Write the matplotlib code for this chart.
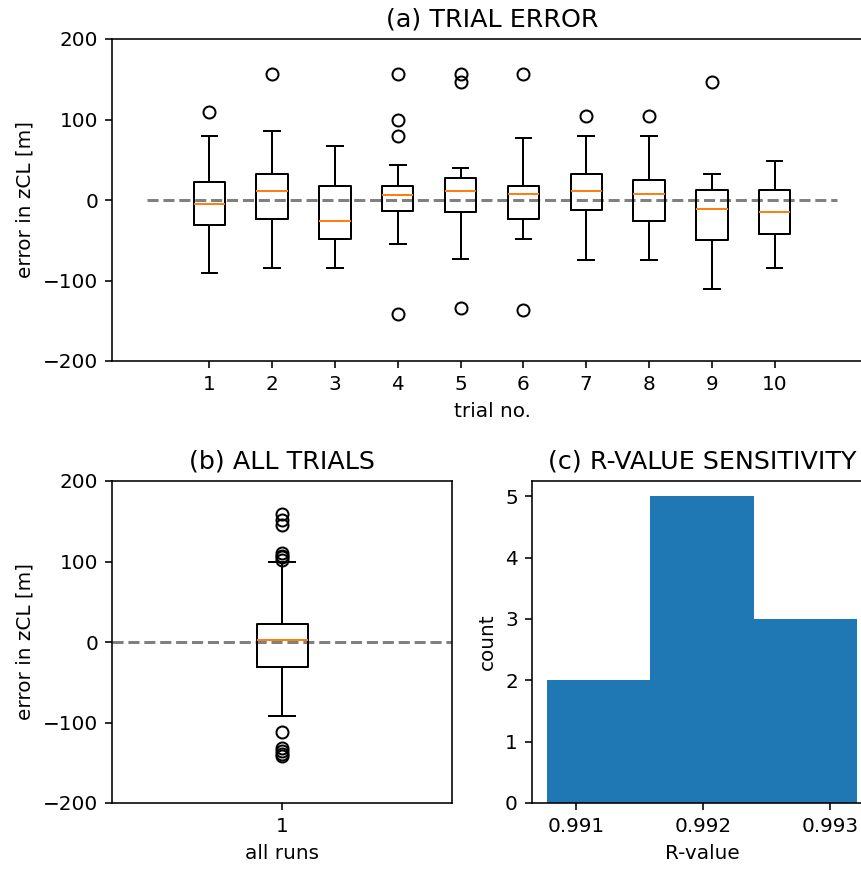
import numpy as np
import matplotlib
matplotlib.use('Agg')
import matplotlib.pyplot as plt

# per-trial box stats (error in zCL, m)
trials = [1, 2, 3, 4, 5, 6, 7, 8, 9, 10]
trial_med = [-5, 11, -26, 6, 11, 7, 11, 8, -11, -15]
trial_q1 = [-31, -24, -48, -14, -15, -23, -13, -26, -50, -42]
trial_q3 = [22, 32, 17, 17, 27, 18, 32, 25, 12, 12]
trial_whislo = [-91, -84, -85, -55, -73, -49, -75, -74, -111, -84]
trial_whishi = [79, 86, 67, 43, 40, 77, 79, 79, 32, 49]
trial_fliers = [[109], [157], [], [157, 99, 80, -141], [157, 147, -134],
                [157, -137], [104], [104], [146], []]

# all trials pooled
all_med = 2.5
all_q1 = -31
all_q3 = 22
all_whislo = -92
all_whishi = 99
all_fliers = [159, 152, 145, 111, 107, 105, 102, -112, -132, -136, -139, -142]

# R-values, one per trial
r_values = [0.990774, 0.99125, 0.99175, 0.99190, 0.99200, 0.99210,
            0.99225, 0.99265, 0.99290, 0.993205]

W, H = 861, 869
DPI = 144
TITLE_SIZE = 12.7


def px_axes(fig, left, top, right, bottom):
    return fig.add_axes([left / W, 1 - bottom / H, (right - left) / W, (bottom - top) / H])


def make_stats(med, q1, q3, lo, hi, fl):
    return dict(med=med, q1=q1, q3=q3, whislo=lo, whishi=hi, fliers=fl)


def main():
    fig = plt.figure(figsize=(W / DPI, H / DPI), dpi=DPI)

    # (a) trial error
    ax1 = px_axes(fig, 112, 39, 872, 361)
    stats = [make_stats(trial_med[i], trial_q1[i], trial_q3[i], trial_whislo[i],
                        trial_whishi[i], trial_fliers[i]) for i in range(len(trials))]
    ax1.bxp(stats, positions=trials, widths=0.5, showfliers=True)
    ax1.hlines(0, 0, len(trials) + 1, colors='gray', linestyles='--', linewidth=1.5, zorder=1)
    ax1.set_xlim(-0.55, 11.55)
    ax1.set_xticks(trials)
    ax1.set_xticklabels([str(t) for t in trials])
    ax1.set_ylim(-200, 200)
    ax1.set_yticks([-200, -100, 0, 100, 200])
    ax1.set_xlabel('trial no.')
    ax1.set_ylabel('error in zCL [m]')
    ax1.set_title('(a) TRIAL ERROR', fontsize=TITLE_SIZE)

    # (b) all trials
    ax2 = px_axes(fig, 112, 481, 452, 803)
    ax2.bxp([make_stats(all_med, all_q1, all_q3, all_whislo, all_whishi, all_fliers)],
            positions=[1], widths=0.15, showfliers=True)
    ax2.axhline(0, color='gray', linestyle='--', linewidth=1.5, zorder=1)
    ax2.set_xlim(0.5, 1.5)
    ax2.set_xticks([1])
    ax2.set_xticklabels(['1'])
    ax2.set_ylim(-200, 200)
    ax2.set_yticks([-200, -100, 0, 100, 200])
    ax2.set_xlabel('all runs')
    ax2.set_ylabel('error in zCL [m]')
    ax2.set_title('(b) ALL TRIALS', fontsize=TITLE_SIZE)

    # (c) r-value sensitivity
    ax3 = px_axes(fig, 532, 481, 872, 803)
    ax3.hist(r_values, bins=3, color='#1f77b4')
    ax3.set_xticks([0.991, 0.992, 0.993])
    ax3.set_xticklabels(['0.991', '0.992', '0.993'])
    ax3.set_xlabel('R-value')
    ax3.set_ylabel('count')
    ax3.set_title('(c) R-VALUE SENSITIVITY', fontsize=TITLE_SIZE)

    fig.savefig('out.png', dpi=DPI)


if __name__ == '__main__':
    main()
